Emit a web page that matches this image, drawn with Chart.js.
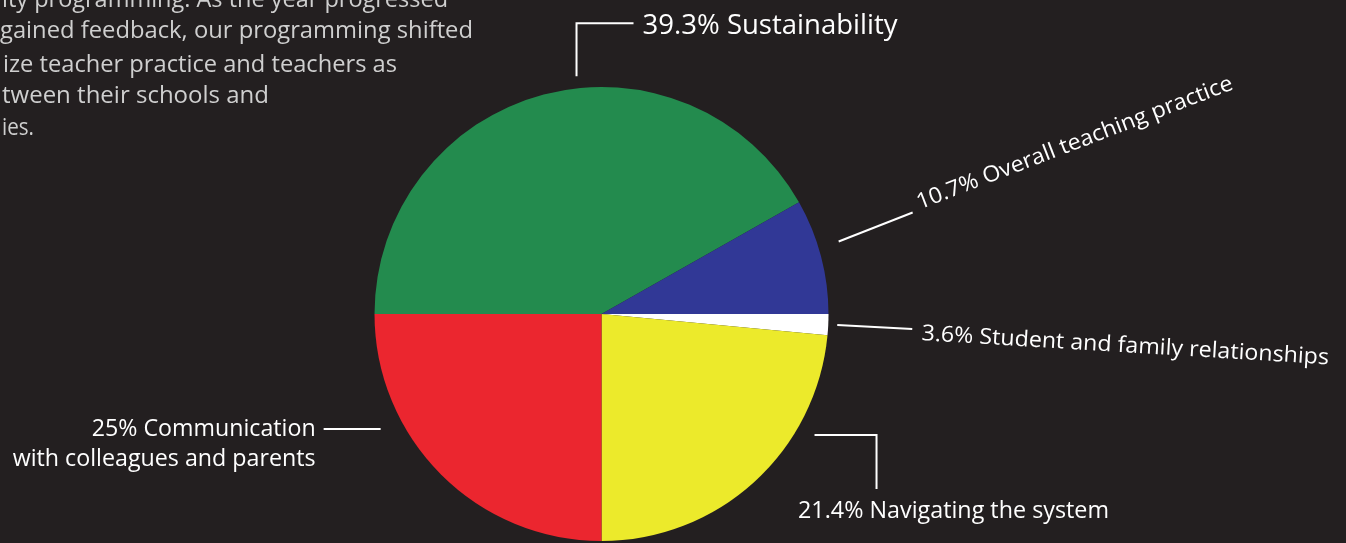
<!DOCTYPE html>
<html>
<head>
<meta charset="utf-8">
<script src="https://cdn.jsdelivr.net/npm/chart.js@4.4.1/dist/chart.umd.min.js"></script>
<style>
  html, body { margin: 0; padding: 0; background: #231f20; overflow: hidden; }
  #wrap { position: relative; width: 1346px; height: 543px; }
</style>
</head>
<body>
<div id="wrap"><canvas id="c" width="1346" height="543"></canvas></div>
<script>
// ---- data ----
const categories = [
  'Sustainability',
  'Overall teaching practice',
  'Student and family relationships',
  'Navigating the system',
  'Communication with colleagues and parents'
];
// printed percentages in the labels
const labelPercents = ['39.3%', '10.7%', '3.6%', '21.4%', '25%'];
// slice sizes as drawn in the picture (measured angles, in percent)
const sliceValues = [41.8, 8.2, 1.5, 23.5, 25.0];
const sliceColors = ['#238b4e', '#313896', '#ffffff', '#ecea2b', '#eb262f'];
const introLines = [
  'ity programming. As the year progressed',
  'gained feedback, our programming shifted',
  'ize teacher practice and teachers as',
  'tween their schools and',
  'ies.'
];

// ---- label layout (annotation, not data) ----
const FONT = "'Open Sans', 'Noto Sans', sans-serif";
const labelLayout = [
  { ang: -6.0, gap: 12, path: [[0,0],[0,-53],[57,-53]],
    texts: [{ t: labelPercents[0] + ' ' + categories[0], dx: 66, dy: -42, size: 27, w: 255, align: 'left', rot: 0 }] },
  { ang: 73.0, gap: 21, path: [[0,0],[74,-29]],
    texts: [{ t: labelPercents[1] + ' ' + categories[1], dx: 81, dy: -32, size: 22, w: 337, align: 'left', rot: -21 }] },
  { ang: 92.7, gap: 9, path: [[0,0],[75,4]],
    texts: [{ t: labelPercents[2] + ' ' + categories[2], dx: 84, dy: 15, size: 22, w: 408, align: 'left', rot: 3.4 }] },
  { ang: 119.6, gap: 18, path: [[0,0],[62,0],[62,54]],
    texts: [{ t: labelPercents[3] + ' ' + 'Navigating the system', dx: 139, dy: 83, size: 23, w: 311, align: 'center', rot: 0 }] },
  { ang: 242.5, gap: 22, path: [[0,0],[-57,0]],
    texts: [
      { t: labelPercents[4] + ' ' + 'Communication', dx: -65, dy: 7, size: 23, w: 224, align: 'right', rot: 0 },
      { t: 'with colleagues and parents', dx: -65, dy: 37, size: 23, w: 303, align: 'right', rot: 0 }
    ] }
];
const introLayout = [
  { x: 2, y: 7, w: 446 },
  { x: 0, y: 38, w: 473 },
  { x: 3, y: 72, w: 394 },
  { x: 2, y: 103, w: 267 },
  { x: 2, y: 135, w: 32 }
];

function drawFitted(ctx, txt, x, y, size, targetW, align, rotDeg, color) {
  ctx.save();
  ctx.translate(x, y);
  ctx.rotate(rotDeg * Math.PI / 180);
  ctx.font = size + 'px ' + FONT;
  ctx.textBaseline = 'alphabetic';
  ctx.textAlign = align;
  const m = ctx.measureText(txt).width;
  ctx.scale(targetW / m, 1);
  ctx.fillStyle = color;
  ctx.fillText(txt, 0, 0);
  ctx.restore();
}

const labelPlugin = {
  id: 'labelPlugin',
  afterDraw(chart) {
    const ctx = chart.ctx;
    const arc = chart.getDatasetMeta(0).data[0];
    const cx = arc.x, cy = arc.y, R = arc.outerRadius;
    introLines.forEach((ln, i) => {
      const L = introLayout[i];
      drawFitted(ctx, ln, L.x, L.y, 23, L.w, 'left', 0, '#cfcfcf');
    });
    labelLayout.forEach(lab => {
      const a = lab.ang * Math.PI / 180;
      const r = R + lab.gap;
      const ax = cx + r * Math.sin(a), ay = cy - r * Math.cos(a);
      ctx.save();
      ctx.strokeStyle = '#ffffff';
      ctx.lineWidth = 2;
      ctx.lineCap = 'butt';
      ctx.lineJoin = 'miter';
      ctx.beginPath();
      lab.path.forEach((p, i) => {
        if (i === 0) ctx.moveTo(ax + p[0], ay + p[1]);
        else ctx.lineTo(ax + p[0], ay + p[1]);
      });
      ctx.stroke();
      ctx.restore();
      lab.texts.forEach(t => {
        drawFitted(ctx, t.t, ax + t.dx, ay + t.dy, t.size, t.w, t.align, t.rot, '#ffffff');
      });
    });
  }
};

new Chart(document.getElementById('c'), {
  type: 'pie',
  data: {
    labels: categories,
    datasets: [{
      data: sliceValues,
      backgroundColor: sliceColors,
      borderWidth: 0,
      hoverOffset: 0,
      offset: 0
    }]
  },
  options: {
    responsive: false,
    animation: false,
    events: [],
    rotation: 270,
    layout: { padding: { top: 87, bottom: 2, left: 0, right: 143 } },
    plugins: { legend: { display: false }, tooltip: { enabled: false } }
  },
  plugins: [labelPlugin]
});
</script>
</body>
</html>
